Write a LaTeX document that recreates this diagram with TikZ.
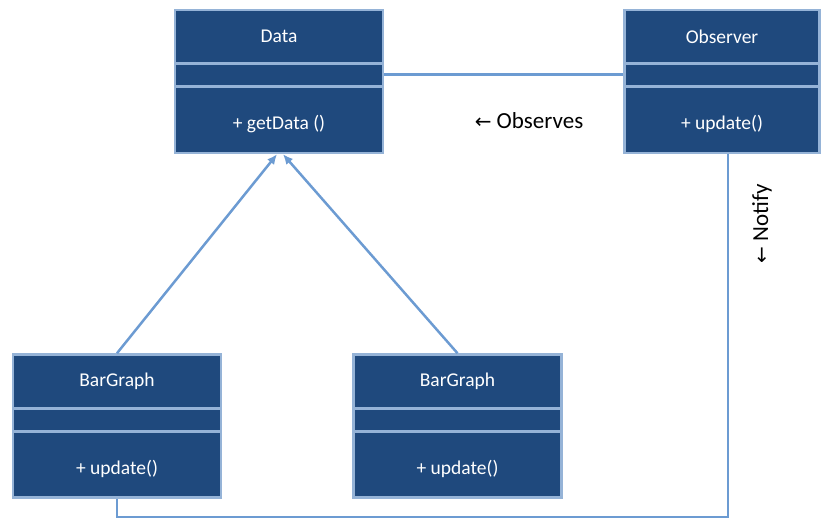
\documentclass[tikz,border=0pt]{standalone}
\usepackage{fontspec}
\setmainfont{Carlito}
\newfontfamily\arrowfont{DejaVu Sans}
\usetikzlibrary{calc,arrows.meta}
\definecolor{classfill}{HTML}{1F497D}
\definecolor{classline}{HTML}{95B3D7}
\definecolor{linkblue}{HTML}{6C9BD2}

\begin{document}
\begin{tikzpicture}[x=1pt, y=-1pt, >={Latex[length=10pt,width=9pt]},
		classbox/.style={draw=classline, line width=2.5pt, fill=classfill,
			minimum width=208pt, minimum height=143pt, inner sep=0pt},
		classtext/.style={text=white, font=\fontsize{19.5}{23}\selectfont},
		link/.style={draw=linkblue, line width=2.5pt},
		label/.style={font=\fontsize{23}{27}\selectfont}]
	\useasboundingbox (0,0) rectangle (822,519);
	
	% classes: name / centre / width / title / method
	\foreach \n/\cx/\cy/\w/\title/\meth in {data/279/81.5/208/Data/{+ getData ()},
		observer/722/81.5/195/Observer/{+ update()},
		bar1/117/426/208/BarGraph/{+ update()},
		bar2/457.5/426/208/BarGraph/{+ update()}} {
		\node[classbox, minimum width=\w pt] (\n) at (\cx,\cy) {};
		\node[classtext] (\n-title) at ($(\n.north)+(0,28)$) {\title};
		\node[classtext] (\n-meth) at ($(\n.south)+(0,-30)$) {\meth};
		\draw[classline, line width=2.5pt] ($(\n.north west)+(0,55)$) -- ($(\n.north east)+(0,55)$);
		\draw[classline, line width=2.5pt] ($(\n.north west)+(0,78)$) -- ($(\n.north east)+(0,78)$);
	}
	
	% observer link
	\draw[link] ($(data.north east)+(0,66)$) -- ($(observer.north west)+(0,66)$);
	\node[label] (observes) at (529,121) {{\arrowfont\fontsize{20}{24}\selectfont ←} Observes};
	
	% notify bus
	\coordinate (corner) at (728,517);
	\draw[link] (observer.south -| corner) -- (corner) -- (bar1.south |- corner) -- (bar1.south);
	\draw[link] ($(bar2.north east)+(0,66.5)$) -- ($(bar2.north east)+(0,66.5)$ -| corner);
	\node[label, rotate=90] (notify) at (762,224) {{\arrowfont\fontsize{20}{24}\selectfont ←} Notify};
	
	% inheritance
	\draw[link, ->] (bar1.north) -- ($(data.south)+(-2,0)$);
	\draw[link, ->] (bar2.north) -- ($(data.south)+(4,0)$);
\end{tikzpicture}
\end{document}
